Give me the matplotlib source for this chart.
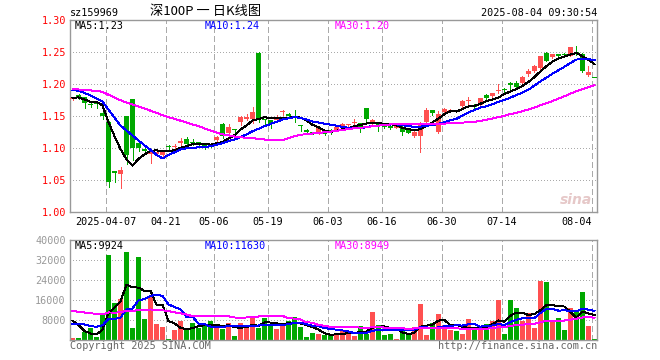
import matplotlib
matplotlib.use('Agg')
import matplotlib.pyplot as plt
import matplotlib.transforms as mtransforms
import numpy as np
import pandas as pd

plt.rcParams['font.family'] = ['DejaVu Sans Mono', 'Noto Sans CJK SC']

# ---------------- data ----------------
holidays = ['2025-04-04', '2025-05-01', '2025-05-02', '2025-05-05', '2025-06-02']
start_date, end_date = '2025-03-27', '2025-08-04'

opens = [1.177, 1.183, 1.179, 1.169, 1.170, 1.155, 1.140, 1.064, 1.060, 1.150,
         1.177, 1.108, 1.099, 1.090, 1.090, 1.089, 1.102, 1.101, 1.108, 1.114,
         1.109, 1.109, 1.104, 1.105, 1.1125, 1.1375, 1.124, 1.129, 1.141, 1.146,
         1.145, 1.249, 1.145, 1.143, 1.144, 1.156, 1.153, 1.149, 1.135, 1.128,
         1.125, 1.123, 1.124, 1.128, 1.128, 1.133, 1.1355, 1.139, 1.1385, 1.1625,
         1.1385, 1.139, 1.135, 1.134, 1.132, 1.133, 1.128, 1.118, 1.119, 1.140,
         1.159, 1.1255, 1.157, 1.157, 1.158, 1.166, 1.173, 1.167, 1.167, 1.183,
         1.181, 1.189, 1.191, 1.202, 1.201, 1.202, 1.2156, 1.2208, 1.225, 1.248,
         1.242, 1.247, 1.246, 1.2443, 1.250, 1.247, 1.214, 1.2100]
highs = [1.180, 1.184, 1.180, 1.171, 1.171, 1.159, 1.142, 1.064, 1.071, 1.150,
         1.177, 1.108, 1.101, 1.097, 1.096, 1.094, 1.104, 1.107, 1.115, 1.117,
         1.114, 1.110, 1.105, 1.107, 1.119, 1.139, 1.137, 1.129, 1.150, 1.153,
         1.164, 1.250, 1.145, 1.143, 1.152, 1.160, 1.154, 1.159, 1.135, 1.129,
         1.125, 1.132, 1.126, 1.129, 1.135, 1.139, 1.138, 1.145, 1.139, 1.163,
         1.145, 1.140, 1.136, 1.135, 1.135, 1.134, 1.129, 1.126, 1.141, 1.162,
         1.160, 1.158, 1.162, 1.161, 1.159, 1.175, 1.180, 1.168, 1.1776, 1.185,
         1.186, 1.200, 1.193, 1.203, 1.204, 1.213, 1.2236, 1.229, 1.2445, 1.250,
         1.247, 1.247, 1.248, 1.2583, 1.260, 1.248, 1.2286, 1.2100]
lows = [1.175, 1.177, 1.162, 1.164, 1.163, 1.145, 1.039, 1.047, 1.037, 1.075,
        1.082, 1.095, 1.093, 1.077, 1.088, 1.088, 1.098, 1.098, 1.105, 1.103,
        1.105, 1.104, 1.099, 1.102, 1.110, 1.116, 1.120, 1.120, 1.136, 1.143,
        1.139, 1.141, 1.136, 1.132, 1.141, 1.152, 1.149, 1.141, 1.127, 1.124,
        1.122, 1.122, 1.120, 1.122, 1.127, 1.132, 1.134, 1.136, 1.1255, 1.1375,
        1.137, 1.127, 1.131, 1.129, 1.131, 1.120, 1.123, 1.117, 1.094, 1.1375,
        1.152, 1.124, 1.156, 1.156, 1.156, 1.164, 1.169, 1.163, 1.166, 1.177,
        1.177, 1.186, 1.188, 1.1906, 1.196, 1.201, 1.212, 1.219, 1.221, 1.236,
        1.240, 1.243, 1.243, 1.2443, 1.245, 1.218, 1.213, 1.2095]
closes = [1.178, 1.178, 1.170, 1.167, 1.168, 1.150, 1.047, 1.061, 1.065, 1.089,
          1.100, 1.100, 1.096, 1.093, 1.093, 1.093, 1.101, 1.103, 1.111, 1.106,
          1.108, 1.106, 1.102, 1.104, 1.117, 1.118, 1.133, 1.128, 1.148, 1.149,
          1.157, 1.144, 1.143, 1.138, 1.149, 1.157, 1.150, 1.148, 1.134, 1.125,
          1.124, 1.131, 1.122, 1.124, 1.133, 1.1375, 1.1375, 1.140, 1.132, 1.145,
          1.144, 1.134, 1.133, 1.131, 1.134, 1.1255, 1.124, 1.125, 1.1385, 1.159,
          1.154, 1.153, 1.161, 1.160, 1.157, 1.1734, 1.174, 1.1636, 1.1776, 1.1786,
          1.1854, 1.190, 1.190, 1.1984, 1.196, 1.2115, 1.2208, 1.228, 1.243, 1.2365,
          1.247, 1.244, 1.245, 1.2583, 1.248, 1.2203, 1.218, 1.2098]
volumes = [900, 900, 3100, 4900, 1300, 10400, 34000, 14900, 16500, 35200,
           4900, 33300, 8400, 17100, 6500, 5300, 500, 4100, 7700, 4300,
           6900, 4800, 5900, 7700, 4800, 4400, 6800, 1700, 6800, 6100,
           8900, 4800, 8700, 6500, 4400, 6800, 7600, 9200, 5200, 1200,
           2800, 2400, 2100, 2000, 2100, 3700, 3700, 1600, 5600, 2400,
           11200, 6000, 2000, 2400, 400, 4300, 2500, 5200, 14400, 2200,
           6700, 10400, 6000, 4000, 3600, 2500, 8400, 5200, 4000, 6400,
           7600, 16000, 2500, 16000, 12800, 7600, 10800, 4800, 23700, 23200,
           7200, 8800, 4000, 12800, 11600, 19200, 5600, 400]

# closes / volumes of the 29 sessions before the window (feed the moving averages)
prior_closes = [1.185, 1.188, 1.192, 1.195, 1.190, 1.186, 1.189, 1.193, 1.197, 1.195,
                1.192, 1.190, 1.194, 1.198, 1.196, 1.192, 1.189, 1.193, 1.195, 1.196,
                1.190, 1.203, 1.207, 1.213, 1.200, 1.176, 1.185, 1.187, 1.167]
prior_volumes = [13000, 11500, 12400, 12000, 13500, 12200, 16000, 15000, 15600, 12500,
                 11000, 12500, 11700, 10500, 11200, 10700, 19000, 18000, 19100, 28000,
                 2500, 4500, 11000, 4500, 4000, 9400, 15000, 10000, 3200]

tick_dates = ['2025-04-07', '2025-04-21', '2025-05-06', '2025-05-19', '2025-06-03',
              '2025-06-16', '2025-06-30', '2025-07-14', '2025-08-04']
price_ticks = [1.00, 1.05, 1.10, 1.15, 1.20, 1.25, 1.30]
vol_ticks = [0, 8000, 16000, 24000, 32000, 40000]
ma_periods = [5, 10, 30]
price_ma_text = ['MA5:1.23', 'MA10:1.24', 'MA30:1.20']
vol_ma_text = ['MA5:9924', 'MA10:11630', 'MA30:8949']
code_text = 'sz159969'
title_text = '深100P 一 日K线图'
time_text = '2025-08-04 09:30:54'

# ---------------- styling ----------------
W, H = 660, 360
RED = '#ff5050'
GREEN = '#00a800'
MA_COLORS = ['#000000', '#0000ff', '#ff00ff']
GRID = '#aaaaaa'
FRAME = '#999999'
FS = 7.3
LW = 0.7

dates = [d for d in pd.bdate_range(start_date, end_date).strftime('%Y-%m-%d') if d not in holidays]
n = len(dates)
x = np.arange(n)
o = np.array(opens); h = np.array(highs); l = np.array(lows); c = np.array(closes)
v = np.array(volumes, dtype=float)
up = c >= o
colors = np.where(up, RED, GREEN)

all_c = pd.Series(list(prior_closes) + list(closes))
all_v = pd.Series(list(prior_volumes) + list(volumes), dtype=float)
npri = len(prior_closes)
price_mas = [all_c.rolling(p).mean().values[npri:] for p in ma_periods]
vol_mas = [all_v.rolling(p).mean().values[npri:] for p in ma_periods]

fig = plt.figure(figsize=(W / 100, H / 100), dpi=100)
L, R = 70, 597
ax = fig.add_axes([L / W, 1 - 212 / H, (R - L) / W, 192 / H])
axv = fig.add_axes([L / W, 1 - 340 / H, (R - L) / W, 100 / H])

half = 0.417
bw = 0.8
for a in (ax, axv):
    a.set_xlim(-half, n - 1 + half)
    for s in a.spines.values():
        s.set_color(FRAME)
        s.set_linewidth(1)
    a.tick_params(length=0, pad=3)
    a.set_xticks([])

tick_idx = [dates.index(d) for d in tick_dates]

# main panel
ax.set_ylim(price_ticks[0], price_ticks[-1])
for yv in price_ticks[1:-1]:
    ax.axhline(yv, color=GRID, lw=LW, ls=(0, (1, 3)), zorder=0, antialiased=False)
for ti in tick_idx:
    ax.axvline(ti - half, color=GRID, lw=LW, ls=(0, (6, 4)), zorder=0, antialiased=False)
    axv.axvline(ti - half, color=GRID, lw=LW, ls=(0, (6, 4)), zorder=0, antialiased=False)

ax.vlines(x, l, h, colors=colors, lw=LW, zorder=2, antialiased=False)
body_b = np.minimum(o, c)
body_h = np.maximum(np.abs(c - o), 0.0016)
ax.bar(x, body_h, bottom=body_b, width=bw, color=colors, lw=0, zorder=3)
for ma, col in zip(price_mas, MA_COLORS):
    ax.plot(x, ma, color=col, lw=LW, zorder=4, antialiased=False)

ax.set_yticks(price_ticks)
ax.set_yticklabels(['%.2f' % t for t in price_ticks], color='#ff0000', fontsize=FS)

trans = mtransforms.blended_transform_factory(ax.transData, ax.transAxes)
for k, (ti, d) in enumerate(zip(tick_idx, tick_dates)):
    lab = d if k == 0 else d[5:]
    ha = 'right' if k == len(tick_idx) - 1 else 'center'
    ax.text(ti - half, -0.025, lab, transform=trans, ha=ha, va='top', fontsize=FS, color='#000000')

# volume panel
axv.set_ylim(vol_ticks[0], vol_ticks[-1])
for yv in vol_ticks[1:-1]:
    axv.axhline(yv, color=GRID, lw=LW, ls=(0, (1, 3)), zorder=0, antialiased=False)
axv.bar(x, v, width=bw, color=colors, lw=0, zorder=2)
for ma, col in zip(vol_mas, MA_COLORS):
    axv.plot(x, ma, color=col, lw=LW, zorder=4, antialiased=False)
axv.set_yticks(vol_ticks[1:])
axv.set_yticklabels([str(t) for t in vol_ticks[1:]], color='#999999', fontsize=FS)


def ftext(px, py, s, **kw):
    fig.text(px / W, 1 - py / H, s, **kw)


ftext(70, 13, code_text, fontsize=FS, va='center', ha='left', color='#000000')
ftext(206, 12, title_text, fontsize=9.5, va='center', ha='center', color='#000000',
      family=['Noto Sans CJK SC', 'DejaVu Sans'])
ftext(597, 13, time_text, fontsize=FS, va='center', ha='right', color='#000000')

for s, px, col in zip(price_ma_text, [75, 205, 335], MA_COLORS):
    ftext(px, 26, s, fontsize=FS, va='center', ha='left', color=col)
for s, px, col in zip(vol_ma_text, [75, 205, 335], MA_COLORS):
    ftext(px, 246, s, fontsize=FS, va='center', ha='left', color=col)

ftext(70, 346, 'Copyright 2025 SINA.COM', fontsize=FS, va='center', ha='left', color='#666666')
ftext(597, 346, 'http://finance.sina.com.cn', fontsize=FS, va='center', ha='right', color='#666666')

ftext(576, 200, 'sina', fontsize=10, va='center', ha='center', color='#e6c8c8',
      style='italic', weight='bold', family='DejaVu Sans')

fig.savefig('out.png', dpi=100)
